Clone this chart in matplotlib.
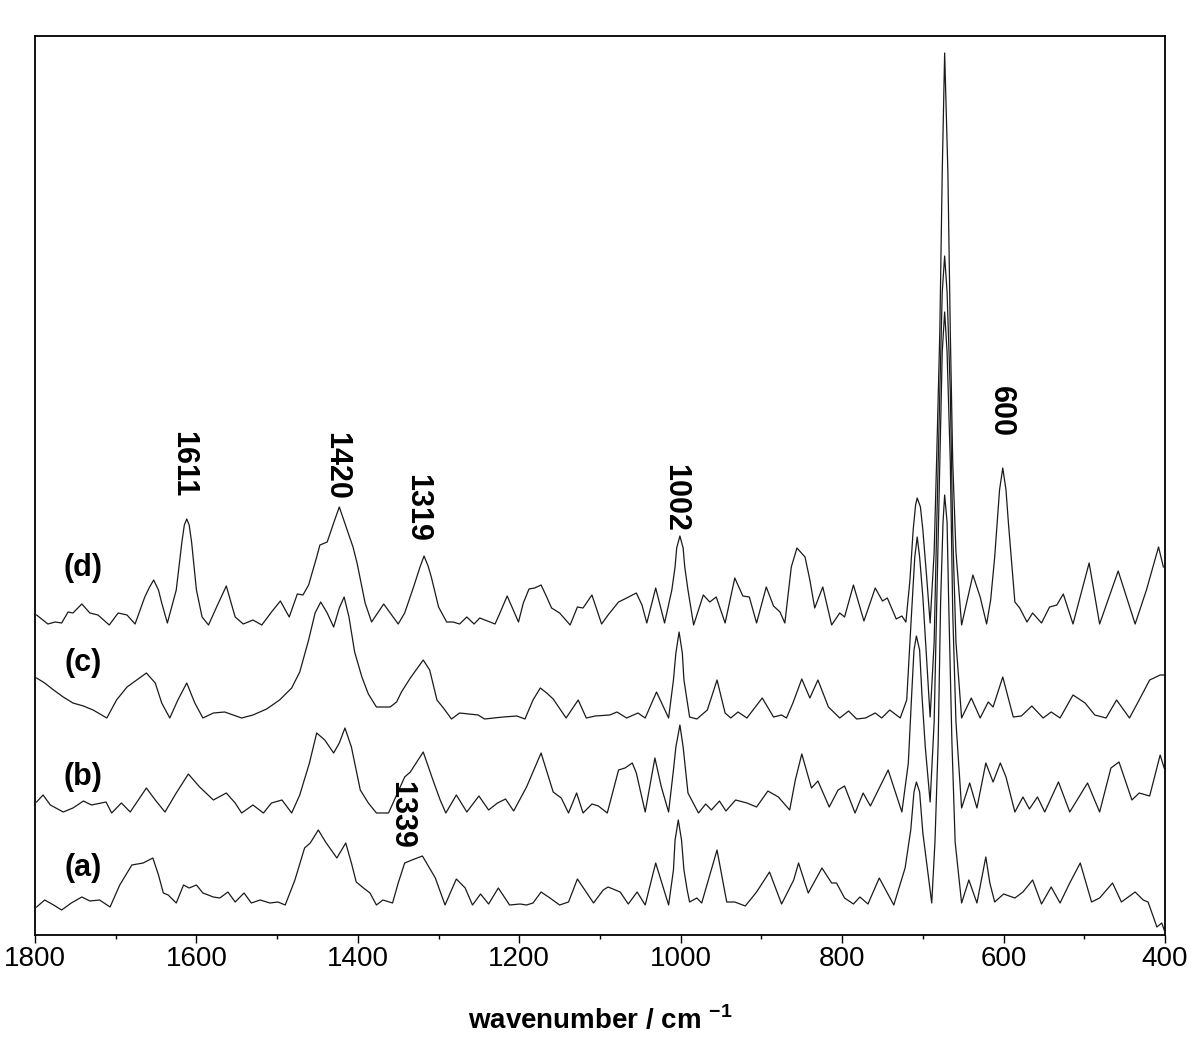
"""
Stacked Raman spectra (a)-(d), 1800-400 cm-1.
Values read off the reference picture (arbitrary intensity units, traces already offset).
"""

import matplotlib
matplotlib.use("Agg")
import matplotlib.pyplot as plt
from matplotlib.ticker import MultipleLocator

# ---- data: (wavenumber, intensity) points for each trace ----
trace_d = [
    (1798, 317), (1784, 308), (1775, 310), (1767, 309), (1759, 320), (1753, 319),
    (1742, 328), (1732, 319), (1722, 317), (1708, 307), (1697, 319), (1686, 317),
    (1676, 308), (1664, 335), (1658, 345), (1653, 352), (1647, 342), (1643, 329),
    (1636, 309), (1625, 342), (1618, 390), (1615, 407), (1612, 413), (1609, 407),
    (1606, 390), (1600, 342), (1593, 315), (1585, 307), (1575, 325), (1563, 346),
    (1552, 315), (1542, 308), (1530, 312), (1519, 307), (1507, 320), (1496, 331),
    (1485, 315), (1475, 338), (1468, 337), (1461, 347), (1451, 375), (1447, 387),
    (1438, 390), (1430, 409), (1423, 425), (1414, 404), (1406, 385), (1401, 369),
    (1391, 329), (1383, 310), (1368, 328), (1350, 308), (1342, 319), (1331, 345),
    (1323, 365), (1318, 376), (1313, 366), (1309, 355), (1300, 325), (1290, 310),
    (1282, 310), (1274, 308), (1265, 315), (1256, 308), (1249, 314), (1230, 308),
    (1224, 319), (1215, 336), (1201, 310), (1195, 329), (1188, 343), (1181, 344),
    (1173, 347), (1166, 335), (1160, 324), (1150, 319), (1137, 307), (1128, 325),
    (1121, 324), (1110, 337), (1098, 308), (1090, 317), (1077, 330), (1067, 334),
    (1055, 339), (1048, 327), (1042, 309), (1031, 344), (1020, 309), (1011, 342),
    (1007, 365), (1005, 384), (1001, 396), (997, 384), (995, 365), (991, 342),
    (984, 307), (972, 337), (964, 330), (956, 335), (945, 309), (933, 354),
    (923, 336), (915, 335), (906, 309), (894, 345), (885, 326), (877, 320),
    (871, 309), (863, 365), (856, 384), (846, 375), (840, 352), (834, 324),
    (824, 345), (813, 307), (803, 319), (797, 315), (786, 347), (773, 311),
    (759, 344), (750, 331), (744, 334), (733, 313), (726, 316), (721, 310),
    (716, 352), (712, 402), (709, 427), (707, 434), (703, 425), (700, 402),
    (695, 352), (691, 309), (686, 380), (683, 470), (679, 600), (676, 760),
    (673, 879), (669, 760), (666, 600), (663, 470), (659, 380), (652, 307),
    (638, 357), (629, 335), (621, 308), (616, 332), (611, 375), (608, 409),
    (605, 442), (601, 464), (597, 442), (594, 409), (590, 369), (586, 330),
    (580, 324), (571, 310), (564, 319), (553, 309), (543, 325), (534, 327),
    (526, 338), (514, 308), (494, 369), (481, 308), (458, 361), (437, 308),
    (423, 342), (408, 385), (402, 365),
]

trace_c = [
    (1798, 254), (1788, 249), (1777, 242), (1765, 235), (1753, 229), (1740, 226),
    (1728, 222), (1711, 214), (1699, 232), (1686, 245), (1674, 252), (1662, 259),
    (1651, 249), (1643, 229), (1633, 214), (1623, 232), (1612, 249), (1602, 229),
    (1592, 214), (1579, 219), (1565, 220), (1544, 214), (1530, 217), (1513, 223),
    (1497, 232), (1482, 244), (1472, 260), (1461, 292), (1453, 319), (1446, 330),
    (1438, 319), (1430, 305), (1423, 324), (1417, 335), (1411, 315), (1404, 280),
    (1395, 255), (1387, 238), (1377, 225), (1360, 225), (1352, 230), (1346, 240),
    (1335, 254), (1319, 272), (1311, 262), (1302, 232), (1294, 224), (1284, 213),
    (1274, 219), (1251, 217), (1243, 213), (1220, 215), (1203, 216), (1193, 213),
    (1183, 232), (1174, 244), (1166, 239), (1158, 233), (1142, 214), (1127, 232),
    (1117, 214), (1106, 216), (1088, 217), (1079, 220), (1067, 214), (1053, 219),
    (1044, 214), (1030, 240), (1015, 214), (1009, 252), (1006, 279), (1002, 300),
    (998, 279), (996, 252), (989, 215), (980, 213), (967, 222), (955, 252),
    (945, 219), (938, 214), (929, 220), (918, 214), (899, 234), (885, 215),
    (875, 217), (869, 214), (861, 229), (850, 253), (840, 234), (830, 252),
    (817, 225), (803, 214), (792, 221), (782, 213), (771, 214), (759, 219),
    (751, 214), (741, 222), (728, 214), (720, 232), (714, 319), (710, 375),
    (707, 395), (704, 375), (700, 335), (691, 215), (686, 290), (683, 400),
    (679, 540), (676, 640), (673, 676), (670, 640), (666, 540), (663, 400),
    (659, 290), (652, 214), (640, 234), (629, 214), (619, 230), (613, 225),
    (601, 255), (588, 215), (578, 216), (565, 226), (551, 214), (541, 220),
    (530, 214), (514, 237), (499, 229), (487, 217), (473, 214), (460, 232),
    (444, 214), (432, 232), (419, 252), (406, 257), (400, 257),
]

trace_b = [
    (1798, 130), (1790, 137), (1781, 127), (1765, 120), (1753, 124), (1740, 131),
    (1730, 127), (1712, 130), (1705, 119), (1693, 129), (1682, 120), (1662, 144),
    (1651, 132), (1639, 120), (1625, 139), (1610, 158), (1596, 145), (1579, 132),
    (1563, 139), (1552, 129), (1544, 119), (1530, 127), (1517, 119), (1507, 129),
    (1494, 132), (1482, 119), (1472, 137), (1460, 169), (1451, 199), (1441, 192),
    (1430, 179), (1423, 189), (1416, 204), (1408, 185), (1397, 142), (1387, 129),
    (1377, 119), (1362, 119), (1342, 155), (1335, 160), (1319, 180), (1307, 152),
    (1298, 132), (1291, 119), (1278, 137), (1265, 120), (1250, 136), (1238, 122),
    (1227, 129), (1217, 133), (1207, 121), (1191, 145), (1173, 179), (1158, 140),
    (1148, 134), (1139, 119), (1129, 139), (1121, 119), (1110, 128), (1102, 126),
    (1091, 119), (1077, 162), (1069, 164), (1060, 169), (1055, 159), (1044, 120),
    (1032, 174), (1024, 145), (1015, 120), (1009, 162), (1006, 185), (1001, 207),
    (997, 185), (994, 162), (991, 139), (978, 119), (969, 128), (962, 122),
    (952, 131), (944, 121), (932, 132), (918, 129), (906, 125), (892, 141),
    (879, 135), (865, 122), (858, 152), (850, 178), (838, 144), (830, 151),
    (816, 125), (805, 142), (797, 146), (784, 119), (774, 139), (765, 126),
    (743, 162), (726, 120), (718, 169), (714, 235), (711, 282), (708, 296),
    (704, 282), (701, 235), (697, 185), (691, 130), (686, 210), (683, 320),
    (679, 470), (676, 580), (673, 620), (670, 580), (666, 470), (663, 320),
    (659, 210), (652, 124), (642, 149), (633, 124), (622, 169), (613, 150),
    (604, 169), (597, 155), (586, 120), (576, 135), (568, 123), (558, 135),
    (549, 120), (532, 150), (518, 120), (496, 149), (481, 120), (467, 164),
    (457, 170), (441, 132), (432, 139), (419, 136), (406, 177), (401, 164),
]

trace_a = [
    (1798, 25), (1788, 32), (1777, 27), (1767, 22), (1755, 29), (1742, 35),
    (1732, 31), (1720, 32), (1707, 25), (1695, 47), (1680, 67), (1666, 69),
    (1654, 74), (1647, 57), (1641, 39), (1635, 37), (1625, 29), (1616, 47),
    (1609, 44), (1600, 47), (1592, 39), (1579, 35), (1571, 34), (1561, 40),
    (1552, 30), (1541, 39), (1532, 29), (1521, 32), (1509, 29), (1499, 30),
    (1490, 27), (1478, 52), (1466, 84), (1459, 89), (1449, 102), (1440, 90),
    (1426, 74), (1415, 89), (1408, 69), (1402, 50), (1393, 44), (1385, 39),
    (1377, 27), (1369, 32), (1357, 29), (1350, 49), (1342, 69), (1333, 72),
    (1320, 76), (1304, 54), (1292, 27), (1278, 53), (1267, 44), (1258, 27),
    (1248, 38), (1238, 28), (1226, 44), (1212, 27), (1199, 28), (1191, 27),
    (1183, 29), (1173, 40), (1162, 34), (1150, 27), (1139, 30), (1128, 53),
    (1108, 29), (1096, 42), (1090, 45), (1075, 40), (1065, 28), (1054, 40),
    (1044, 27), (1031, 69), (1015, 27), (1009, 62), (1007, 92), (1003, 112),
    (999, 92), (996, 62), (992, 42), (989, 30), (980, 34), (974, 29),
    (955, 82), (943, 30), (933, 30), (920, 26), (906, 40), (890, 60),
    (875, 28), (860, 52), (854, 69), (842, 39), (825, 64), (813, 49),
    (807, 49), (797, 34), (786, 28), (778, 35), (768, 28), (754, 54),
    (736, 27), (722, 64), (715, 102), (711, 140), (708, 150), (704, 140),
    (700, 99), (689, 29), (685, 90), (681, 190), (678, 330), (675, 410),
    (673, 437), (670, 410), (668, 330), (664, 190), (660, 90), (652, 29),
    (643, 52), (633, 29), (622, 75), (617, 49), (611, 30), (600, 38),
    (586, 34), (576, 40), (564, 52), (553, 28), (541, 45), (530, 29),
    (518, 49), (505, 69), (491, 30), (481, 34), (465, 49), (454, 30),
    (437, 40), (427, 32), (421, 30), (410, 5), (404, 9), (401, 2),
]

trace_labels = ["(a)", "(b)", "(c)", "(d)"]
trace_label_y = [64, 155, 269, 364]

peak_labels = ["1611", "1420", "1319", "1002", "600", "1339"]
peak_label_x = [1617, 1427, 1326, 1007, 603, 1347]
peak_label_y = [468, 466, 424, 434, 520, 117]

FONT = ["Liberation Sans", "DejaVu Sans"]


def draw_spectra():
    plt.rcParams["font.family"] = FONT
    plt.rcParams["mathtext.fontset"] = "custom"
    plt.rcParams["mathtext.rm"] = "Liberation Sans:bold"
    plt.rcParams["mathtext.bf"] = "Liberation Sans:bold"

    fig = plt.figure(figsize=(12, 10.6), dpi=100)
    # frame: x 35..1165 px, y 36..935 px
    ax = fig.add_axes([35 / 1200, 1 - 935 / 1060, 1130 / 1200, 899 / 1060])

    for trace in [trace_a, trace_b, trace_c, trace_d]:
        wn, inten = zip(*trace)
        ax.plot(wn, inten, color="#1a1a1a", linewidth=0.9)

    for lab, y in zip(trace_labels, trace_label_y):
        ax.text(1740, y, lab, fontsize=22, fontweight="bold",
                ha="center", va="center")

    for lab, x, y in zip(peak_labels, peak_label_x, peak_label_y):
        ax.text(x, y, lab, fontsize=22, fontweight="bold", rotation=-90,
                ha="center", va="center")

    ax.set_xlim(1800, 400)
    ax.set_ylim(-3, 896)
    ax.set_yticks([])
    ax.xaxis.set_major_locator(MultipleLocator(200))
    ax.xaxis.set_minor_locator(MultipleLocator(100))
    ax.tick_params(axis="x", which="major", direction="out", length=6, width=1.0,
                   labelsize=20, pad=2)
    ax.tick_params(axis="x", which="minor", direction="out", length=3, width=1.0)
    for sp in ax.spines.values():
        sp.set_linewidth(1.3)

    ax.set_xlabel(r"wavenumber / cm $^{\mathbf{-1}}$", fontsize=20,
                  fontweight="bold", labelpad=24)

    fig.savefig("out.png", dpi=100)
    plt.close(fig)


if __name__ == "__main__":
    draw_spectra()
